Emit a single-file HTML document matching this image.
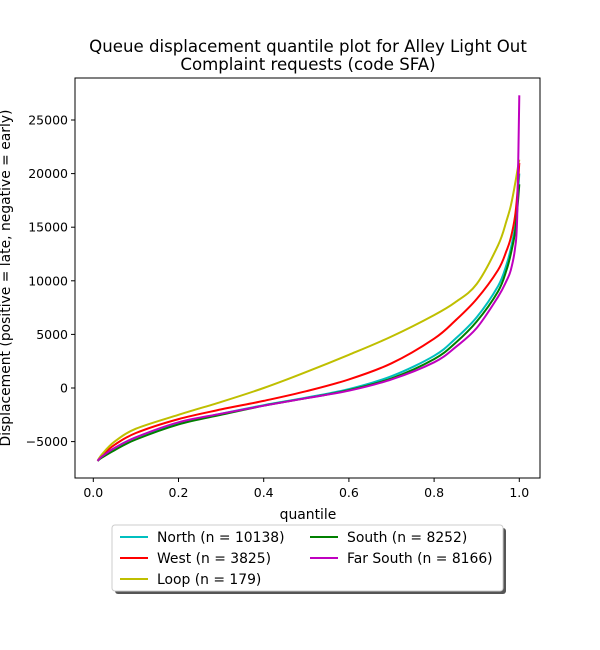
<!DOCTYPE html>
<html><head><meta charset="utf-8"><style>
body{margin:0;background:#fff;}
svg{display:block;font-family:"DejaVu Sans","Liberation Sans",sans-serif;}
</style></head><body>
<svg id="chart" width="600" height="650">
<rect x="0" y="0" width="600" height="650" fill="#fff"/>
<text x="308" y="52" text-anchor="middle" font-size="16.6">Queue displacement quantile plot for Alley Light Out</text>
<text x="308" y="70" text-anchor="middle" font-size="16.6">Complaint  requests (code SFA)</text>
<g id="plot"></g>
<rect x="75" y="78" width="465" height="400" fill="none" stroke="#000" stroke-width="1"/>
<text x="308" y="519" text-anchor="middle" font-size="13.9">quantile</text>
<text transform="translate(10,278) rotate(-90)" text-anchor="middle" font-size="13.9">Displacement (positive = late, negative = early)</text>
<g id="legend"></g>
</svg>
<script>
const quantiles=[0.01,0.02,0.05,0.1,0.2,0.3,0.4,0.5,0.6,0.7,0.8,0.85,0.9,0.95,0.97,0.98,0.99,0.995,1.0];
const seriesNames=["North (n = 10138)","West (n = 3825)","Loop (n = 179)","South (n = 8252)","Far South (n = 8166)"];
const seriesColors=["#00bfbf","#ff0000","#bfbf00","#008000","#bf00bf"];
const northVals=[-6800,-6400,-5600,-4600,-3300,-2400,-1600,-900,-100,1100,3000,4600,6600,9500,11500,13000,15000,17000,20000];
const westVals=[-6800,-6300,-5300,-4200,-2900,-2000,-1200,-300,800,2300,4600,6300,8300,11000,12800,14000,16000,18000,21000];
const loopVals=[-6800,-6200,-5000,-3800,-2500,-1300,0,1500,3100,4800,6800,8000,9700,13300,15600,17000,19000,20200,21300];
const southVals=[-6800,-6500,-5800,-4800,-3400,-2500,-1650,-950,-200,900,2700,4200,6200,9000,11000,12500,14500,16500,19000];
const farSouthVals=[-6800,-6400,-5600,-4600,-3200,-2400,-1650,-950,-250,800,2400,3800,5600,8500,10000,11000,13000,16000,27300];
const allVals=[northVals,westVals,loopVals,southVals,farSouthVals];
const xTicks=[0,0.2,0.4,0.6,0.8,1.0];
const xTickLabels=["0.0","0.2","0.4","0.6","0.8","1.0"];
const yTicks=[-5000,0,5000,10000,15000,20000,25000];
const yTickLabels=["−5000","0","5000","10000","15000","20000","25000"];

const NS="http://www.w3.org/2000/svg";
function xs(v){return 93.3+v*426;}
function ys(v){return 388-v*0.01072;}
const plot=document.getElementById('plot');
function mk(tag,attrs,parent){const e=document.createElementNS(NS,tag);for(const k in attrs)e.setAttribute(k,attrs[k]);parent.appendChild(e);return e;}
xTicks.forEach((t,i)=>{
  const l=mk('line',{x1:xs(t),x2:xs(t),y1:478,y2:482,stroke:'#000'},plot);
  
  
  const tx=mk('text',{x:xs(t),y:497,'text-anchor':'middle','font-size':12.5},plot);
  tx.textContent=xTickLabels[i];
  
  
});
yTicks.forEach((t,i)=>{
  const l=mk('line',{x1:71,x2:75,y1:ys(t),y2:ys(t),stroke:'#000'},plot);
  
  
  const tx=mk('text',{x:68,y:ys(t)+4.5,'text-anchor':'end','font-size':12.5},plot);
  tx.textContent=yTickLabels[i];
  
  
});
function smoothPath(pts){
  let d='M'+pts[0][0].toFixed(1)+','+pts[0][1].toFixed(1);
  for(let i=0;i<pts.length-1;i++){
    const p0=pts[Math.max(i-1,0)],p1=pts[i],p2=pts[i+1],p3=pts[Math.min(i+2,pts.length-1)];
    let c1x=p1[0]+(p2[0]-p0[0])/6,c1y=p1[1]+(p2[1]-p0[1])/6;
    let c2x=p2[0]-(p3[0]-p1[0])/6,c2y=p2[1]-(p3[1]-p1[1])/6;
    c1x=Math.min(Math.max(c1x,p1[0]),p2[0]);c2x=Math.min(Math.max(c2x,p1[0]),p2[0]);
    c1y=Math.min(Math.max(c1y,Math.min(p1[1],p2[1])),Math.max(p1[1],p2[1]));
    c2y=Math.min(Math.max(c2y,Math.min(p1[1],p2[1])),Math.max(p1[1],p2[1]));
    d+='C'+c1x.toFixed(1)+','+c1y.toFixed(1)+' '+c2x.toFixed(1)+','+c2y.toFixed(1)+' '+p2[0].toFixed(1)+','+p2[1].toFixed(1);
  }
  return d;
}
allVals.forEach((vals,si)=>{
  const pts=vals.map((v,i)=>[xs(quantiles[i]),ys(v)]);
  const p=mk('path',{d:smoothPath(pts),fill:'none',stroke:seriesColors[si],'stroke-width':2,'stroke-linejoin':'round'},plot);
  
  
});
const lg=document.getElementById('legend');
const sh=mk('rect',{x:115,y:528,width:391,height:66,rx:3,fill:'#555'},lg);
const box=mk('rect',{x:112,y:525,width:391,height:66,rx:3,fill:'#fff',stroke:'#ccc'},lg);
const pos=[[120,537],[120,558],[120,579],[310,537],[310,558]];
seriesNames.forEach((n,i)=>{
  const [x,y]=pos[i];
  const l=mk('line',{x1:x,x2:x+28,y1:y,y2:y,stroke:seriesColors[i],'stroke-width':2},lg);
  
  
  const t=mk('text',{x:x+37,y:y+5,'font-size':13.9},lg);
  t.textContent=n;
  
  
});
</script>
</body></html>
